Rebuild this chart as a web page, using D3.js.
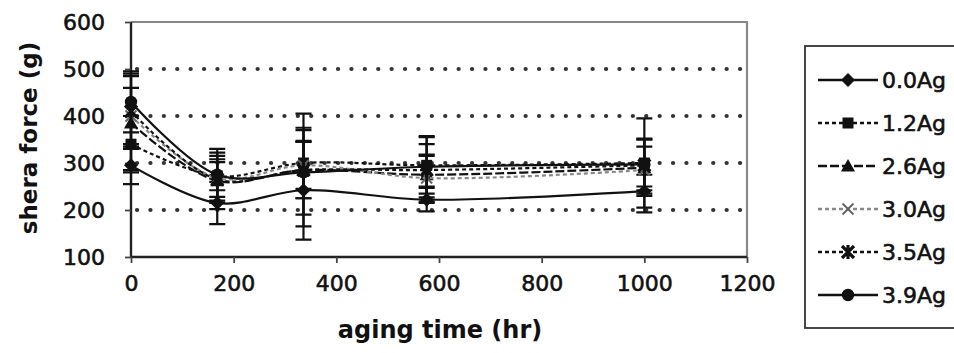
<!DOCTYPE html>
<html>
<head>
<meta charset="utf-8">
<script src="https://cdn.jsdelivr.net/npm/d3@7"></script>
<style>
  html, body { margin: 0; padding: 0; background: #fff; }
  svg { display: block; }
  text { font-family: "DejaVu Sans", sans-serif; fill: #111; }
</style>
</head>
<body>
<svg id="chart" width="954" height="353"></svg>
<script>
// Aging time (hr) at which shear force was measured
const agingTimes = [0, 168, 336, 576, 1000];

// Series names (Ag content)
const seriesNames = ["0.0Ag", "1.2Ag", "2.6Ag", "3.0Ag", "3.5Ag", "3.9Ag"];

// Mean shear force (g) per series
const force00 = [295, 215, 242, 222, 240];
const force12 = [340, 272, 300, 295, 300];
const force26 = [385, 262, 285, 275, 290];
const force30 = [400, 268, 295, 268, 285];
const force35 = [410, 265, 285, 285, 295];
const force39 = [430, 275, 280, 292, 297];

// Error bar half-widths (g) per series
const err00 = [40, 45, 105, 25, 35];
const err12 = [60, 30, 75, 45, 50];
const err26 = [100, 60, 60, 40, 60];
const err30 = [60, 40, 50, 50, 50];
const err35 = [80, 50, 120, 70, 100];
const err39 = [65, 55, 90, 65, 55];

// Tick labels
const xTicks = [0, 200, 400, 600, 800, 1000, 1200];
const yTicks = [100, 200, 300, 400, 500, 600];
const gridValues = [200, 300, 400, 500];

const seriesValues = [force00, force12, force26, force30, force35, force39];
const seriesErrors = [err00, err12, err26, err30, err35, err39];

// Per-series drawing style
const styles = [
  { marker: "diamond", dash: null, color: "#111" },
  { marker: "square", dash: "4 3", color: "#111" },
  { marker: "triangle", dash: "9 3", color: "#111" },
  { marker: "cross", dash: "4 3", color: "#888" },
  { marker: "star", dash: "4 3", color: "#111" },
  { marker: "circle", dash: null, color: "#111" }
];

const svg = d3.select("#chart");
const plot = { left: 131, right: 747, top: 22, bottom: 257 };

const x = d3.scaleLinear().domain([0, 1200]).range([plot.left, plot.right]);
const y = d3.scaleLinear().domain([100, 600]).range([plot.bottom, plot.top]);

// Dotted horizontal grid
svg.append("g").selectAll("line").data(gridValues).join("line")
  .attr("x1", plot.left + 6).attr("x2", plot.right)
  .attr("y1", d => y(d)).attr("y2", d => y(d))
  .attr("stroke", "#333").attr("stroke-width", 4.2)
  .attr("stroke-linecap", "round").attr("stroke-dasharray", "0.1 13.3");

// Plot area border (top, right)
svg.append("path")
  .attr("d", `M${plot.left},${plot.top}H${plot.right}V${plot.bottom}`)
  .attr("fill", "none").attr("stroke", "#888").attr("stroke-width", 2.2);

// Axes
const xAxis = svg.append("g").attr("transform", `translate(0,${plot.bottom})`)
  .call(d3.axisBottom(x).tickValues(xTicks).tickSize(6).tickPadding(12).tickFormat(d3.format("d")));
const yAxis = svg.append("g").attr("transform", `translate(${plot.left},0)`)
  .call(d3.axisLeft(y).tickValues(yTicks).tickSize(6).tickPadding(20).tickFormat(d3.format("d")));
[xAxis, yAxis].forEach(a => {
  a.select(".domain").attr("stroke", "#222").attr("stroke-width", 2.4);
  a.selectAll(".tick line").attr("stroke", "#444").attr("stroke-width", 1.8);
  a.selectAll(".tick text").style("font-family", "DejaVu Sans, sans-serif")
    .style("font-size", "22px").attr("fill", "#111")
    .attr("stroke", "#111").attr("stroke-width", 0.6);
});
yAxis.select(".domain").attr("d", `M0,${plot.bottom}V${plot.top}`);
xAxis.select(".domain").attr("d", `M0,0H${plot.right - plot.left}`).attr("transform", `translate(${plot.left},0)`);

// Axis titles
svg.append("text").attr("x", 440).attr("y", 338).attr("text-anchor", "middle")
  .style("font-size", "24px").style("font-weight", "bold").text("aging time (hr)");
svg.append("text").attr("transform", "translate(37,138) rotate(-90)").attr("text-anchor", "middle")
  .style("font-size", "23px").style("font-weight", "bold").text("shera force (g)");

// Marker shapes
function drawMarker(g, kind, cx, cy, color, s) {
  s = s || 1;
  if (kind === "diamond") {
    g.append("path").attr("d", `M${cx},${cy - 7 * s}L${cx + 7 * s},${cy}L${cx},${cy + 7 * s}L${cx - 7 * s},${cy}Z`).attr("fill", color);
  } else if (kind === "square") {
    g.append("rect").attr("x", cx - 5.5 * s).attr("y", cy - 5.5 * s).attr("width", 11 * s).attr("height", 11 * s).attr("fill", color);
  } else if (kind === "triangle") {
    g.append("path").attr("d", `M${cx},${cy - 7 * s}L${cx + 7 * s},${cy + 5.5 * s}L${cx - 7 * s},${cy + 5.5 * s}Z`).attr("fill", color);
  } else if (kind === "cross") {
    g.append("path").attr("d", `M${cx - 5.5 * s},${cy - 5.5 * s}L${cx + 5.5 * s},${cy + 5.5 * s}M${cx + 5.5 * s},${cy - 5.5 * s}L${cx - 5.5 * s},${cy + 5.5 * s}`)
      .attr("stroke", color).attr("stroke-width", 2);
  } else if (kind === "star") {
    g.append("path").attr("d", `M${cx - 6 * s},${cy - 6 * s}L${cx + 6 * s},${cy + 6 * s}M${cx + 6 * s},${cy - 6 * s}L${cx - 6 * s},${cy + 6 * s}M${cx},${cy - 7 * s}V${cy + 7 * s}`)
      .attr("stroke", color).attr("stroke-width", 3.2);
  } else {
    g.append("circle").attr("cx", cx).attr("cy", cy).attr("r", 6.2 * s).attr("fill", color);
  }
}

const line = d3.line()
  .x((d, i) => x(agingTimes[i]))
  .y(d => y(d))
  .curve(d3.curveCatmullRom.alpha(0.5));

const series = svg.append("g");
seriesValues.forEach((vals, si) => {
  const st = styles[si];
  const g = series.append("g");
  // error bars
  vals.forEach((v, i) => {
    const e = seriesErrors[si][i];
    const cx = x(agingTimes[i]);
    g.append("path")
      .attr("d", `M${cx},${y(v + e)}V${y(v - e)}M${cx - 8},${y(v + e)}H${cx + 8}M${cx - 8},${y(v - e)}H${cx + 8}`)
      .attr("stroke", "#111").attr("stroke-width", 2.2).attr("fill", "none");
  });
  g.append("path").datum(vals).attr("d", line)
    .attr("fill", "none").attr("stroke", st.color).attr("stroke-width", 2.2)
    .attr("stroke-dasharray", st.dash);
  vals.forEach((v, i) => drawMarker(g, st.marker, x(agingTimes[i]), y(v), st.color === "#888" ? "#666" : "#111"));
});

// Legend
const legend = svg.append("g");
legend.append("rect").attr("x", 805).attr("y", 46).attr("width", 170).attr("height", 282)
  .attr("fill", "#fff").attr("stroke", "#333").attr("stroke-width", 1.8);
seriesNames.forEach((name, i) => {
  const st = styles[i];
  const ly = 80 + i * 43;
  legend.append("line").attr("x1", 818).attr("x2", 878).attr("y1", ly).attr("y2", ly)
    .attr("stroke", st.color).attr("stroke-width", 2.4).attr("stroke-dasharray", st.dash);
  drawMarker(legend, st.marker, 848, ly, st.color === "#888" ? "#666" : "#111");
  legend.append("text").attr("x", 882).attr("y", ly).attr("dy", "0.36em")
    .style("font-size", "22px").attr("stroke", "#111").attr("stroke-width", 0.6).text(name);
});
</script>
</body>
</html>
